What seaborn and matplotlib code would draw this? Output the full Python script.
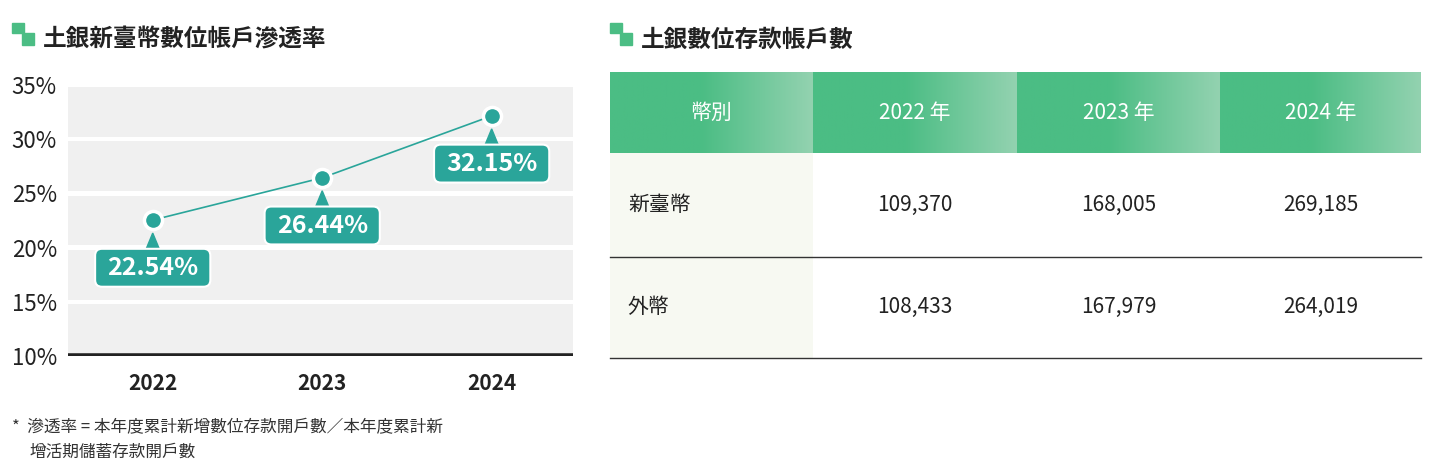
import numpy as np
import pandas as pd
import matplotlib
matplotlib.use("Agg")
import matplotlib.pyplot as plt
from matplotlib.patches import FancyBboxPatch, Polygon, Rectangle
from matplotlib.colors import LinearSegmentedColormap
import seaborn as sns

plt.rcParams["font.family"] = ["Noto Sans CJK TC", "Noto Sans CJK JP", "Noto Sans CJK SC", "DejaVu Sans"]

years = ["2022", "2023", "2024"]
rates = [22.54, 26.44, 32.15]
yticks = [10, 15, 20, 25, 30, 35]
table_header = ["幣別", "2022 年", "2023 年", "2024 年"]
row_labels = ["新臺幣", "外幣"]
twd_accounts = ["109,370", "168,005", "269,185"]
fx_accounts = ["108,433", "167,979", "264,019"]

W, H = 1440, 473
fig = plt.figure(figsize=(W/100, H/100), dpi=100)
TEAL = "#2aa59a"
GREEN = "#4bbd84"

def fx(px): return px / W
def fy(py): return 1 - py / H

for x0, title in [(12, "土銀新臺幣數位帳戶滲透率"), (610, "土銀數位存款帳戶數")]:
    fig.patches.append(Rectangle((fx(x0), fy(33)), 12/W, 10/H, transform=fig.transFigure, color=GREEN))
    fig.patches.append(Rectangle((fx(x0+10), fy(45)), 12/W, 12/H, transform=fig.transFigure, color=GREEN))
    fig.text(fx(x0+31), fy(40), title, fontsize=17, fontweight="bold", va="center", color="#222222")

ax = fig.add_axes([fx(68), fy(356), (573-68)/W, (356-85)/H])
ax.set_facecolor("white")
ax.set_xlim(-0.5, 2.48)
ax.set_ylim(10, 35)
for lo in yticks[:-1]:
    ax.axhspan(lo + 0.2, lo + 5 - 0.2, color="#f0f0f0", lw=0, zorder=0)
df = pd.DataFrame({"x": range(len(years)), "y": rates})
sns.lineplot(data=df, x="x", y="y", ax=ax, color=TEAL, lw=1.2, zorder=3)
sns.scatterplot(data=df, x="x", y="y", ax=ax, color=TEAL, s=170, edgecolor="white", linewidth=2.5, zorder=4)
for i, v in enumerate(rates):
    cy = v - 4.4
    ax.add_patch(Polygon([[i - 0.045, cy + 1.5], [i + 0.045, cy + 1.5], [i, cy + 3.2]], closed=True, color=TEAL, zorder=4))
    ax.add_patch(FancyBboxPatch((i - 0.34, cy - 1.75), 0.68, 3.5, boxstyle="round,pad=0,rounding_size=0.04",
                                mutation_aspect=15.7, facecolor=TEAL, edgecolor="white", lw=1.5, zorder=4))
    ax.text(i, cy - 0.05, f"{v:.2f}%", color="white", fontsize=18, fontweight="bold", ha="center", va="center", zorder=5)
ax.axhline(10, color="#222222", lw=4, zorder=6)
for s in ax.spines.values():
    s.set_visible(False)
ax.set_yticks(yticks)
ax.set_yticklabels([f"{t}%" for t in yticks], fontsize=16, color="#222222")
ax.set_xticks(range(len(years)))
ax.set_xticklabels(years, fontsize=15, fontweight="bold", color="#222222")
ax.tick_params(length=0, axis="y", pad=8)
ax.tick_params(length=0, axis="x", pad=12)
ax.set_xlabel(""); ax.set_ylabel("")

fig.text(fx(12), fy(428), "*  滲透率 = 本年度累計新增數位存款開戶數／本年度累計新", fontsize=12, va="center", color="#333333")
fig.text(fx(30), fy(452), "增活期儲蓄存款開戶數", fontsize=12, va="center", color="#333333")

tx = fig.add_axes([0, 0, 1, 1], zorder=-1)
tx.set_xlim(0, W); tx.set_ylim(H, 0); tx.axis("off")
cols = [610, 813, 1017, 1220, 1421]
cmap = LinearSegmentedColormap.from_list("g", [GREEN, "#93d2b0"])
grad = np.linspace(0, 1, 256)[None, :]
grad = np.clip((grad - 0.45) / 0.55, 0, 1)
for j in range(4):
    tx.imshow(grad, extent=[cols[j], cols[j+1], 153, 73], cmap=cmap, aspect="auto", vmin=0, vmax=1)
    tx.text((cols[j] + cols[j+1]) / 2, 113, table_header[j], color="white", fontsize=15, ha="center", va="center")
tx.add_patch(Rectangle((cols[0], 153), cols[1]-cols[0], 205, color="#f7f9f2", lw=0))
rows = [twd_accounts, fx_accounts]
for r, (lab, vals) in enumerate(zip(row_labels, rows)):
    yc = 205 + r * 102
    tx.text(cols[0] + 18, yc, lab, fontsize=15, va="center", color="#222222")
    for j, v in enumerate(vals):
        tx.text((cols[j+1] + cols[j+2]) / 2, yc, v, fontsize=15, ha="center", va="center", color="#222222")
for y in (257, 358):
    tx.plot([cols[0], cols[-1]], [y, y], color="#333333", lw=1)
tx.set_xlim(0, W); tx.set_ylim(H, 0)

fig.savefig("out.png", dpi=100)
